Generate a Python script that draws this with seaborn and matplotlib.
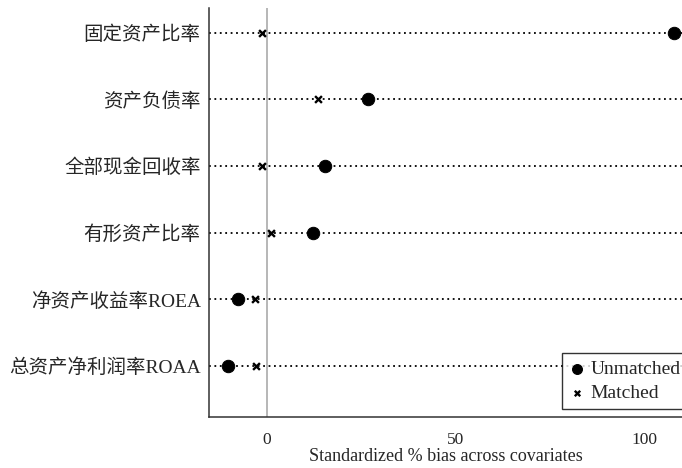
import numpy as np
import pandas as pd
import matplotlib
matplotlib.use("Agg")
import matplotlib.pyplot as plt
import seaborn as sns

# -----------------------------
# Data: standardized % bias, before / after matching
# -----------------------------
variables = ["固定资产比率", "资产负债率", "全部现金回收率", "有形资产比率",
             "净资产收益率ROEA", "总资产净利润率ROAA"]
unmatched = [107.7, 26.7, 15.3, 12.2, -7.7, -10.3]
matched = [-1.3, 13.5, -1.3, 1.1, -3.2, -2.9]
x_ticks = [0, 50, 100]

df = pd.DataFrame({
    "Variable": variables * 2,
    "Bias": unmatched + matched,
    "Sample": ["Unmatched"] * len(variables) + ["Matched"] * len(variables),
})

# -----------------------------
# Style
# -----------------------------
sns.set_style("white")
plt.rcParams["font.family"] = ["Liberation Serif", "Noto Sans CJK SC"]

fig = plt.figure(figsize=(6.82, 4.68), dpi=100)
ax = fig.add_axes([0.3065, 0.109, 0.6935, 0.874])

ypos = np.arange(len(variables))
for y in ypos:
    ax.axhline(y, color="black", linestyle=(0, (1, 2.0)), linewidth=1.3, zorder=1)
ax.axvline(0, color="#aaaaaa", linewidth=1.2, zorder=1)

# points drawn through seaborn, one call per sample
um = df[df["Sample"] == "Unmatched"]
mm = df[df["Sample"] == "Matched"]
sns.scatterplot(data=um, x="Bias", y="Variable", marker="o", s=80,
                color="black", edgecolor="black", ax=ax, zorder=4,
                label="Unmatched")
sns.scatterplot(data=mm, x="Bias", y="Variable", marker="x", s=24,
                color="black", linewidth=1.7, ax=ax, zorder=4,
                label="Matched")

ax.set_xlim(-15.3, 109.8)
ax.set_ylim(len(variables) - 1 + 0.77, -0.375)
ax.set_xticks(x_ticks)
ax.set_xticklabels([str(t) for t in x_ticks], fontsize=12.5)
ax.set_yticks(ypos)
ax.set_yticklabels(variables, fontsize=14)
ax.tick_params(axis="x", direction="out", length=5, width=1, color="#333333", pad=6)
ax.tick_params(axis="y", length=0, pad=6)
ax.set_xlabel("Standardized % bias across covariates", fontsize=13, labelpad=0)
ax.set_ylabel("")

for side in ["top", "right"]:
    ax.spines[side].set_visible(False)
for side in ["left", "bottom"]:
    ax.spines[side].set_color("#333333")
    ax.spines[side].set_linewidth(1.1)

leg = ax.legend(loc="lower right", bbox_to_anchor=(1.02, 0.01), fontsize=14,
                frameon=True, fancybox=False, edgecolor="black",
                handletextpad=0.3, borderpad=0.35, labelspacing=0.35,
                handlelength=0.8, borderaxespad=0.2, markerscale=0.8)
leg.get_frame().set_linewidth(1.0)

fig.savefig("out.png", dpi=100)
